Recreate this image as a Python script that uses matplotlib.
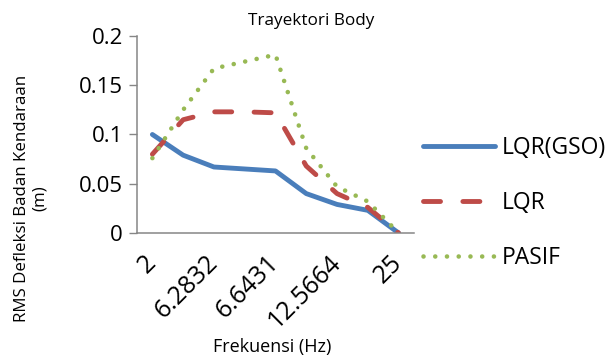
import numpy as np
import matplotlib
matplotlib.use("Agg")
import matplotlib.pyplot as plt

plt.rcParams['font.family'] = ['Open Sans', 'DejaVu Sans']

# frekuensi (hanya label genap yang ditampilkan di sumbu)
freq_labels = ["2", "", "6.2832", "", "6.6431", "", "12.5664", "", "25"]

lqr_gso = [0.100, 0.079, 0.067, 0.065, 0.063, 0.040, 0.029, 0.023, 0.0]
lqr = [0.080, 0.115, 0.123, 0.123, 0.122, 0.068, 0.040, 0.026, 0.0]
pasif = [0.076, 0.125, 0.167, 0.174, 0.181, 0.086, 0.047, 0.032, 0.0]

x = np.arange(len(freq_labels))

fig = plt.figure(figsize=(6.07, 3.6), dpi=100)
ax = fig.add_axes([0.2257, 0.3528, 0.4563, 0.5472])

ax.plot(x, lqr_gso, color="#4A7EBB", lw=3.5, solid_capstyle="round", label="LQR(GSO)")
ax.plot(x, lqr, color="#BE4B48", lw=3.5, dashes=(3.5, 4.6), dash_capstyle="round", label="LQR")
ax.plot(x, pasif, color="#98B954", lw=3.3, dashes=(0.01, 2.55), dash_capstyle="round", label="PASIF")

ax.set_xlim(-0.5, len(freq_labels) - 0.5)
ax.set_ylim(0, 0.2)
ax.set_yticks([0, 0.05, 0.1, 0.15, 0.2])
ax.set_yticklabels(["0", "0.05", "0.1", "0.15", "0.2"], fontsize=16)
ax.set_xticks(x)
ax.set_xticklabels(freq_labels, rotation=45, ha="right", va="center",
                   rotation_mode="anchor", fontsize=18)
ax.tick_params(axis="x", length=0, pad=19)
ax.tick_params(axis="y", length=6, width=1, color="#868686", pad=4)

for side in ["top", "right"]:
    ax.spines[side].set_visible(False)
for side in ["left", "bottom"]:
    ax.spines[side].set_color("#868686")
    ax.spines[side].set_linewidth(1.1)

fig.text(0.512, 1 - 21 / 360, "Trayektori Body", fontsize=12.3, ha="center", va="center")
fig.text(272 / 607, 1 - 347 / 360, "Frekuensi (Hz)", fontsize=13, ha="center", va="center")
fig.text(31 / 607, 1 - 198 / 360, "RMS Defleksi Badan Kendaraan\n(m)", fontsize=12.2,
         rotation=90, ha="center", va="center", multialignment="center", linespacing=1.1)

ax.legend(loc="center left", bbox_to_anchor=(423 / 607, 1 - 203 / 360),
          bbox_transform=fig.transFigure, frameon=False, fontsize=16.5,
          borderaxespad=0, borderpad=0, handlelength=3.15, labelspacing=1.35,
          handletextpad=0.27)

fig.savefig("out.png", dpi=100)
